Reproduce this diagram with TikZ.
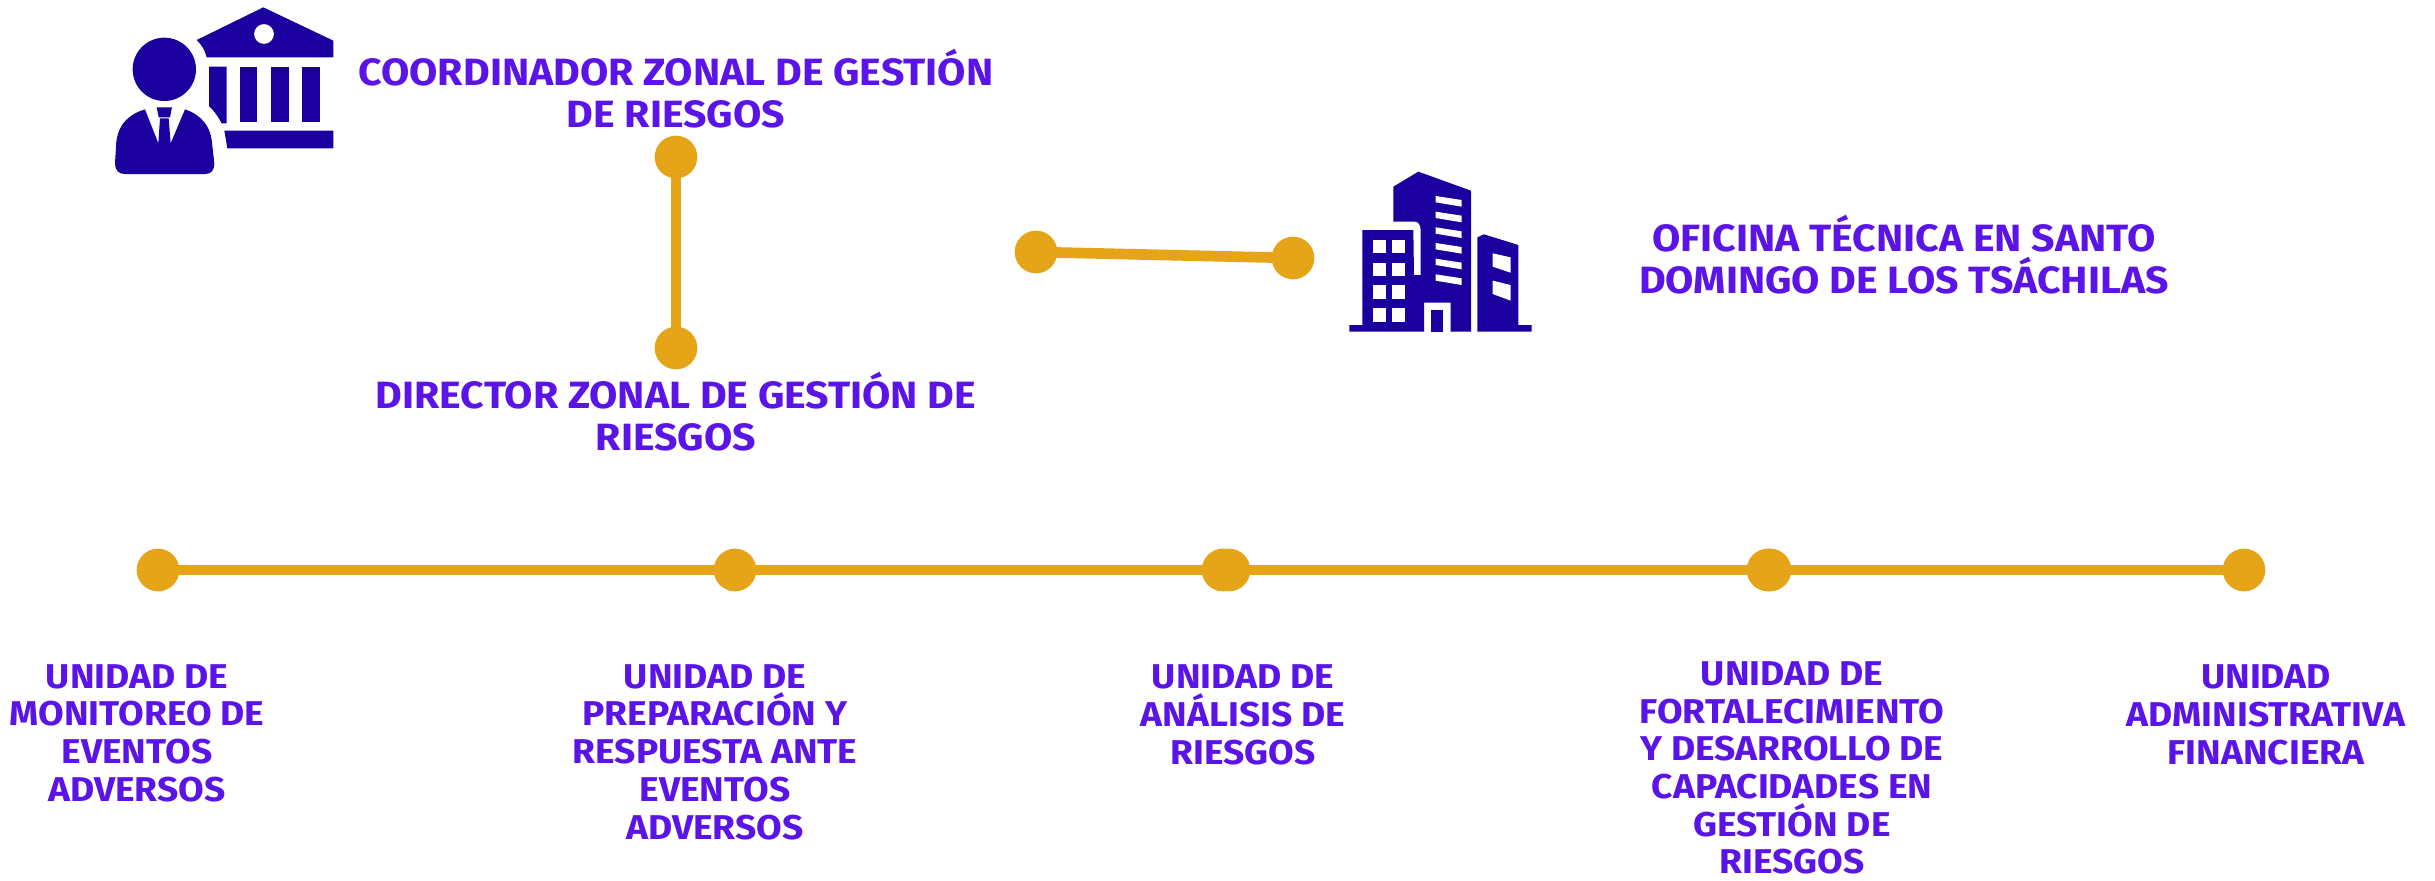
\documentclass[tikz,border=0pt]{standalone}
\usepackage{fontspec}
\setmainfont{Fira Sans}[UprightFont=* SemiBold,BoldFont=* Bold,BoldFeatures={FakeStretch=1.08}]
\definecolor{gold}{HTML}{E6A519}
\definecolor{navy}{HTML}{1B009F}
\definecolor{violet}{HTML}{5B14E8}
\tikzset{
 dot/.style={circle,fill=gold,minimum size=32pt,inner sep=0pt},
 link/.style={draw=gold,line width=8pt},
 big/.style={text=violet,align=center,font=\fontsize{28.5}{31.5}\selectfont\bfseries,inner sep=0pt},
 small/.style={text=violet,align=center,font=\fontsize{25.8}{28.3}\selectfont\bfseries,inner sep=0pt},
 icon/.style={fill=navy},
}
\begin{document}
\begin{tikzpicture}[x=0.75pt,y=-0.75pt]
\useasboundingbox (0,0) rectangle (2435,881);
\fill[white] (0,0) rectangle (2435,881);
% top connectors
\node[dot] (c1) at (676,157) {};
\node[dot] (c2) at (676,348) {};
\node[dot] (o1) at (1036,252) {};
\node[dot] (o2) at (1293,258) {};
\draw[link] (c1.center) -- (c2.center);
\draw[link] (o1.center) -- (o2.center);
% timeline
\node[dot] (a) at (158,570) {};
\node[dot] (b) at (735,570) {};
\node[dot] (d1) at (1223,570) {};
\node[dot] (d2) at (1229,570) {};
\node[dot] (e1) at (1768,570) {};
\node[dot] (e2) at (1770,570) {};
\node[dot] (f) at (2244,570) {};
\draw[link] (a.center) -- (b.center);
\draw[link] (b.center) -- (d1.center);
\draw[link] (d2.center) -- (e1.center);
\draw[link] (e2.center) -- (f.center);
% labels
\node[big] (t1) at (676,89) {COORDINADOR ZONAL DE GESTIÓN\\DE RIESGOS};
\node[big] (t2) at (676,412) {DIRECTOR ZONAL DE GESTIÓN DE\\RIESGOS};
\node[big] (t3) at (1904,255) {OFICINA TÉCNICA EN SANTO\\DOMINGO DE LOS TSÁCHILAS};
\node[small] (u1) at (137,733) {UNIDAD DE\\MONITOREO DE\\EVENTOS\\ADVERSOS};
\node[small] (u2) at (715,752) {UNIDAD DE\\PREPARACIÓN Y\\RESPUESTA ANTE\\EVENTOS\\ADVERSOS};
\node[small] (u3) at (1243,715) {UNIDAD DE\\ANÁLISIS DE\\RIESGOS};
\node[small] (u4) at (1792,768) {UNIDAD DE\\FORTALECIMIENTO\\Y DESARROLLO DE\\CAPACIDADES EN\\GESTIÓN DE\\RIESGOS};
\node[small] (u5) at (2266,715) {UNIDAD\\ADMINISTRATIVA\\FINANCIERA};
% person + bank icon
\begin{scope}[shift={(80,0)},x=0.25pt,y=-0.25pt]
 \fill[icon] (253,208) circle[radius=95];
 \fill[icon] (195,328) .. controls (140,345) and (110,380) .. (108,440) -- (105,490)
   .. controls (105,510) and (115,522) .. (135,522) -- (375,522)
   .. controls (395,522) and (403,510) .. (403,490) -- (395,420)
   .. controls (390,380) and (365,345) .. (315,328) -- (272,430) -- (266,355) -- (240,355) -- (235,430) -- cycle;
 \fill[icon] (230,322) -- (276,322) -- (270,352) -- (236,352) -- cycle;
 \fill[icon,even odd rule] (350,120) -- (550,22) -- (760,122) -- (760,172) -- (380,172)
   .. controls (375,150) and (365,135) .. (350,120) -- cycle (552,102) circle[radius=30];
 \fill[icon] (387,200) -- (440,200) -- (440,370) -- (425,370) .. controls (415,350) and (400,330) .. (387,318) -- cycle;
 \fill[icon] (480,200) rectangle (532,367);
 \fill[icon] (573,200) rectangle (626,367);
 \fill[icon] (667,200) rectangle (720,367);
 \fill[icon] (433,392) -- (760,392) -- (760,445) -- (442,445) -- cycle;
\end{scope}
% building icon
\begin{scope}[shift={(1300,150)},x=0.25pt,y=-0.25pt]
 \fill[icon] (280,110) -- (355,65) -- (513,122) -- (513,545) -- (452,545) -- (452,458) -- (372,458) -- (372,545)
   -- (148,545) -- (148,525) -- (187,525) -- (187,240) -- (340,240) -- (342,375) -- (362,375) -- (362,240)
   .. controls (362,225) and (355,215) .. (345,215) -- (280,215) -- cycle;
 \fill[icon] (392,480) rectangle (428,545);
 \foreach \wy in {270,338,406,475} {
  \fill[white] (218,\wy) rectangle ++(40,40);
  \fill[white] (275,\wy) rectangle ++(41,40);
 }
 \foreach \sy in {0,47,94,141,188,235} {
  \fill[white] (407,138+\sy) -- (485,150+\sy) -- (485,170+\sy) -- (407,157+\sy) -- cycle;
 }
 \fill[icon] (532,262) -- (552,253) -- (655,285) -- (655,525) -- (695,525) -- (695,545) -- (532,545) -- cycle;
 \fill[white] (578,310) -- (632,322) -- (632,368) -- (578,350) -- cycle;
 \fill[white] (578,392) -- (632,405) -- (632,452) -- (578,432) -- cycle;
\end{scope}
\end{tikzpicture}
\end{document}
